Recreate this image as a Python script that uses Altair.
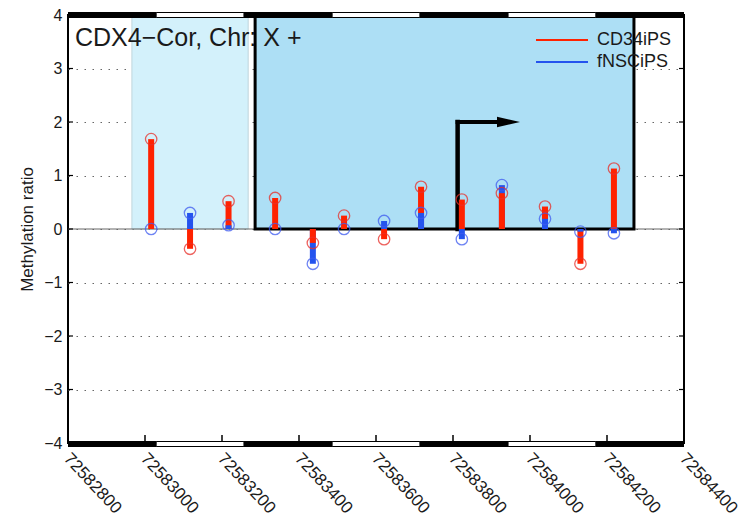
import altair as alt
import pandas as pd

# ---------------- data ----------------
positions = [72583016, 72583117, 72583217, 72583338, 72583436, 72583517, 72583621,
             72583717, 72583823, 72583927, 72584039, 72584131, 72584218]
cd34ips = [1.68, -0.37, 0.52, 0.58, -0.26, 0.25, -0.19, 0.79, 0.55, 0.67, 0.42, -0.65, 1.13]
fnscips = [0.00, 0.30, 0.07, 0.00, -0.65, 0.00, 0.15, 0.30, -0.19, 0.82, 0.19, -0.05, -0.08]
series_names = ["CD34iPS", "fNSCiPS"]
series_colors = ["#ff2200", "#2453ee"]

x_ticks = [72582800, 72583000, 72583200, 72583400, 72583600, 72583800, 72584000, 72584200, 72584400]
y_ticks = [-4, -3, -2, -1, 0, 1, 2, 3, 4]
band_edges = [72582800, 72583029, 72583257, 72583486, 72583714, 72583943, 72584171, 72584400]
island_region = [72582966, 72583268]
gene_region = [72583286, 72584270]
tss_pos = 72583812
tss_tip = 72583974
tss_level = 2
title_text = "CDX4\u2212Cor, Chr: X +"

W, H = 616, 428
FONT = "Liberation Sans"

# ---------------- tables ----------------
rows = []
for p, a, b in zip(positions, cd34ips, fnscips):
    pair = [(series_names[0], a), (series_names[1], b)]
    pair.sort(key=lambda t: -abs(t[1]))
    for s, v in pair:
        rows.append({"pos": p, "series": s, "value": v, "base": 0})
stems = pd.DataFrame(rows)

bands = pd.DataFrame({
    "start": band_edges[:-1],
    "end": band_edges[1:],
    "kind": ["black" if i % 2 == 0 else "white" for i in range(len(band_edges) - 1)],
})
regions = pd.DataFrame({
    "start": [island_region[0], gene_region[0]],
    "end": [island_region[1], gene_region[1]],
    "lo": [0, 0], "hi": [4, 4],
})
ytick_df = pd.DataFrame({"v": y_ticks})
xtick_df = pd.DataFrame({"v": x_ticks[1:-1]})
tss_df = pd.DataFrame({"x": [tss_pos], "x2": [tss_tip - 30], "tip": [tss_tip], "lo": [0], "hi": [tss_level]})
zero_df = pd.DataFrame({"lo": [x_ticks[0]], "hi": [x_ticks[-1]], "y": [0]})
title_df = pd.DataFrame({"t": [title_text]})

xscale = alt.Scale(domain=[x_ticks[0], x_ticks[-1]], nice=False, zero=False)
yscale = alt.Scale(domain=[y_ticks[0], y_ticks[-1]], nice=False, zero=False)

xaxis = alt.Axis(values=x_ticks, format="d", labelAngle=47, labelAlign="left", labelBaseline="top",
                 labelPadding=7, labelOffset=4, ticks=False, domain=False, grid=False, labelFontSize=17,
                 labelOverlap=False, labelFlush=False, title=None, labelColor="#1a1a1a")
yaxis = alt.Axis(values=y_ticks, format="d", ticks=False, domain=False, grid=True,
                 gridDash=[1.5, 6.5], gridColor="#666", gridWidth=1, labelPadding=6,
                 labelFontSize=16, labelColor="#1a1a1a", title="Methylation ratio",
                 titleFontSize=17, titleFontWeight="normal", titleColor="#1a1a1a",
                 titleX=-36, titleY=214, titleAngle=270, titleAlign="center", titleBaseline="alphabetic")

def X(field):
    return alt.X(field, type="quantitative", scale=xscale, axis=xaxis)

def Y(field):
    return alt.Y(field, type="quantitative", scale=yscale, axis=yaxis)

island = alt.Chart(regions.iloc[[0]]).mark_rect(
    fill="#d3f1fb", stroke="#bfd5dc", strokeWidth=1
).encode(x=X("start"), x2="end", y=Y("lo"), y2="hi")

zero_line = alt.Chart(zero_df).mark_rule(color="#666", strokeWidth=1).encode(
    x=X("lo"), x2="hi", y=Y("y"))

gene_fill = alt.Chart(regions.iloc[[1]]).mark_rect(fill="#addff5").encode(
    x=X("start"), x2="end", y=Y("lo"), y2="hi")

title_layer = alt.Chart(title_df).mark_text(
    align="left", baseline="middle", fontSize=25, color="#1a1a1a", font=FONT
).encode(x=alt.value(7), y=alt.value(23), text="t:N")

gene_outline = alt.Chart(regions.iloc[[1]]).mark_rect(
    fill="transparent", stroke="black", strokeWidth=3
).encode(x=X("start"), x2="end", y=Y("lo"), y2="hi")

tss_v = alt.Chart(tss_df).mark_rule(color="black", strokeWidth=4.5, strokeCap="square").encode(
    x=X("x"), y=Y("lo"), y2="hi")
tss_h = alt.Chart(tss_df).mark_rule(color="black", strokeWidth=4, strokeCap="square").encode(
    x=X("x"), x2="x2", y=Y("hi"))
tss_head = alt.Chart(tss_df).mark_point(
    shape="M0,0 L-2,-0.45 L-2,0.45 Z", filled=True, color="black", opacity=1, size=529
).encode(x=X("tip"), y=Y("hi"))

stem_layer = alt.Chart(stems).mark_rule(strokeWidth=6).encode(
    x=X("pos"), y=Y("value"), y2="base",
    color=alt.Color("series:N", scale=alt.Scale(domain=series_names, range=series_colors),
                    legend=alt.Legend(title=None, orient="none", legendX=467, legendY=14,
                                      symbolType="stroke", symbolSize=2704, symbolStrokeWidth=2,
                                      labelFontSize=18, labelColor="#1a1a1a", labelOffset=8,
                                      padding=0, rowPadding=0, clipHeight=22, labelFont=FONT)),
)

circle_layer = alt.Chart(stems).mark_point(
    filled=False, size=130, strokeWidth=1.3, opacity=0.75
).encode(
    x=X("pos"), y=Y("value"),
    stroke=alt.Stroke("series:N", scale=alt.Scale(domain=series_names, range=["#e8302a", "#3f5cf0"]),
                      legend=None),
)

band_black_top = alt.Chart(bands[bands.kind == "black"]).mark_rect(color="black").encode(
    x=X("start"), x2="end", y=alt.value(-3), y2=alt.value(3))
band_white_top = alt.Chart(bands[bands.kind == "white"]).mark_rect(
    fill="white", stroke="black", strokeWidth=1).encode(
    x=X("start"), x2="end", y=alt.value(-2.5), y2=alt.value(2.5))
band_black_bot = alt.Chart(bands[bands.kind == "black"]).mark_rect(color="black").encode(
    x=X("start"), x2="end", y=alt.value(H - 2), y2=alt.value(H + 4))
band_white_bot = alt.Chart(bands[bands.kind == "white"]).mark_rect(
    fill="white", stroke="black", strokeWidth=1).encode(
    x=X("start"), x2="end", y=alt.value(H - 1.5), y2=alt.value(H + 3.5))

left_ticks = alt.Chart(ytick_df).mark_rule(color="black", strokeWidth=1.2).encode(
    x=alt.value(0), x2=alt.value(5), y=Y("v"))
right_ticks = alt.Chart(ytick_df).mark_rule(color="black", strokeWidth=1.2).encode(
    x=alt.value(W - 5), x2=alt.value(W), y=Y("v"))
bottom_ticks = alt.Chart(xtick_df).mark_rule(color="black", strokeWidth=1.5).encode(
    x=X("v"), y=alt.value(H - 8), y2=alt.value(H))

chart = alt.layer(
    island, zero_line, gene_fill, title_layer, gene_outline, tss_v, tss_h, tss_head,
    stem_layer, circle_layer, left_ticks, right_ticks, bottom_ticks,
    band_black_top, band_white_top, band_black_bot, band_white_bot,
).properties(
    width=W, height=H,
    autosize=alt.AutoSizeParams(type="none"),
    padding={"left": 68, "top": 15, "right": 744 - 68 - W, "bottom": 521 - 15 - H},
).configure(font=FONT, background="white").configure_view(stroke="black", strokeWidth=2)

chart.save("out.html", embed_options={"renderer": "svg", "actions": False})
